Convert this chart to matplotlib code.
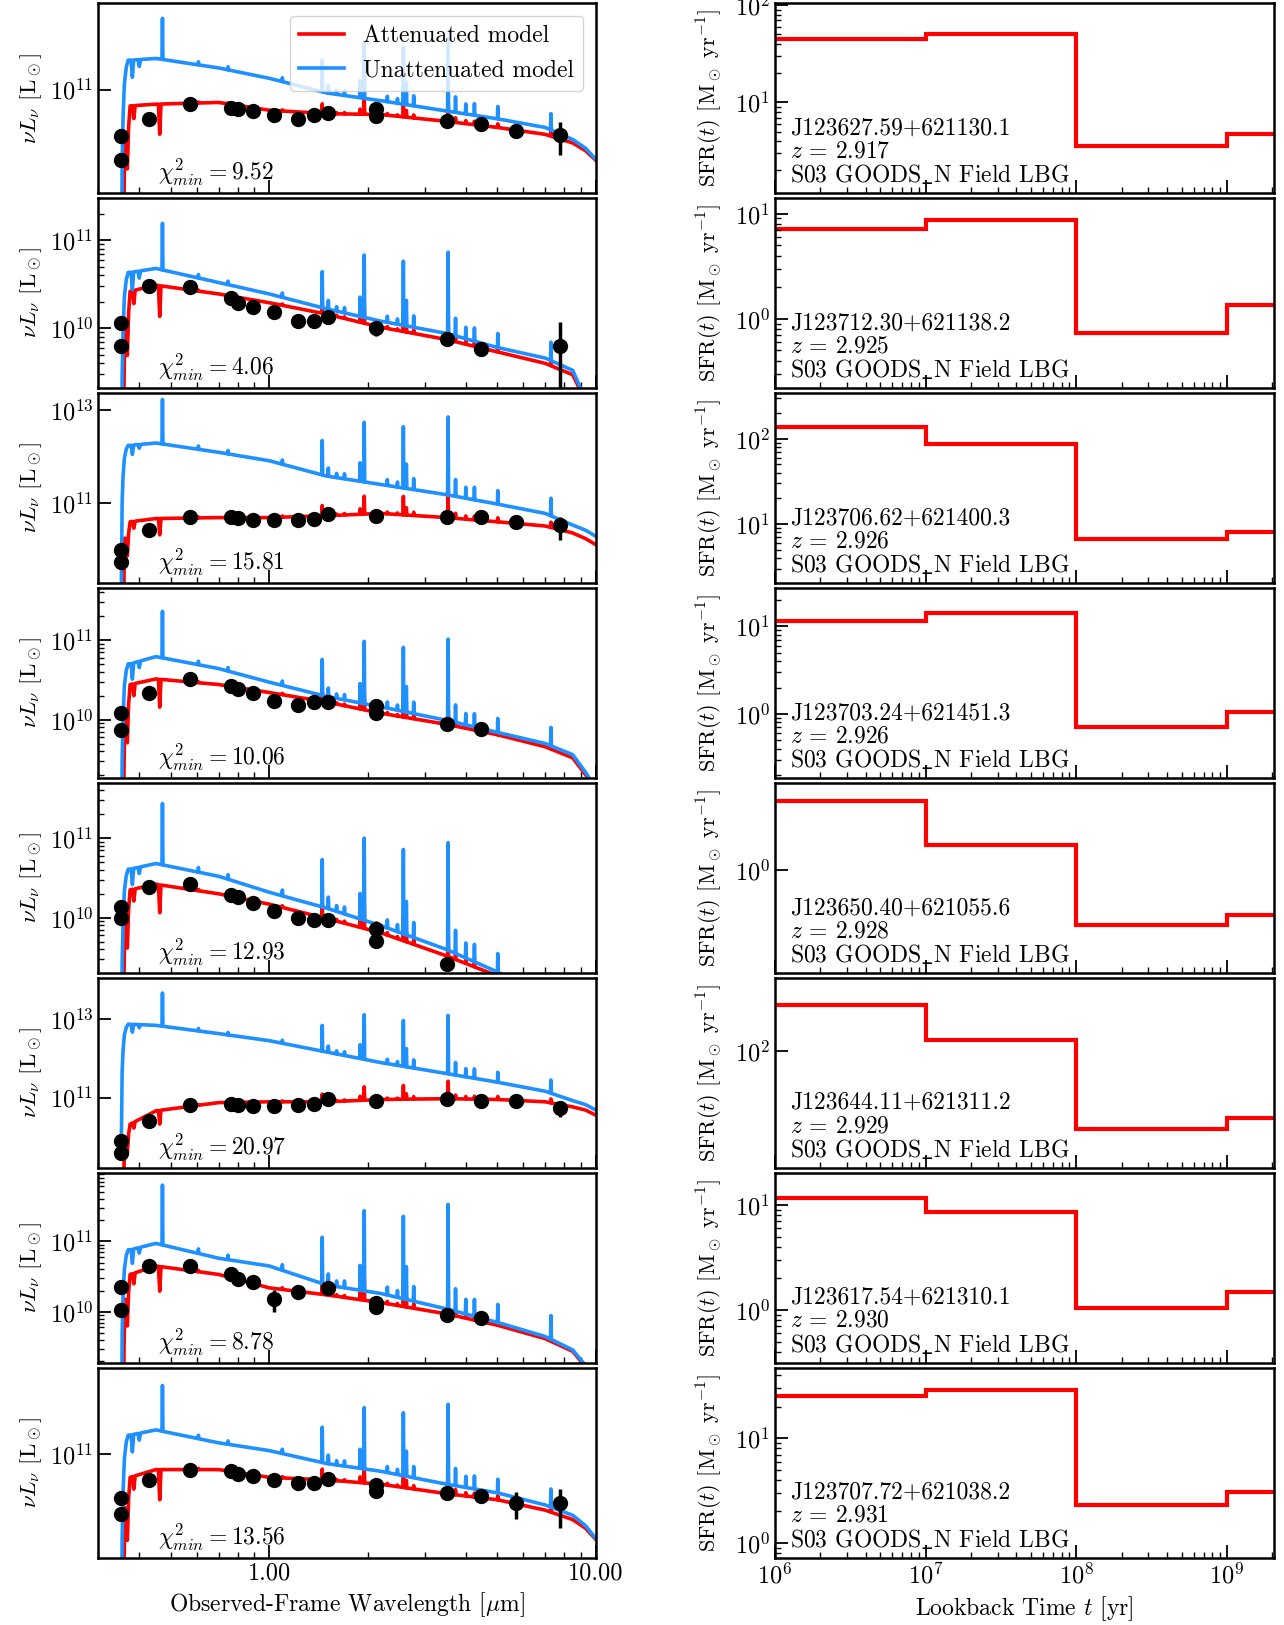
import numpy as np
import matplotlib
matplotlib.use('Agg')
import matplotlib.pyplot as plt
from matplotlib.ticker import (FixedLocator, LogLocator, NullLocator,
                               NullFormatter, FormatStrFormatter, LogFormatterMathtext)

plt.rcParams['font.family'] = ['cmr10', 'DejaVu Serif']
plt.rcParams['mathtext.fontset'] = 'cm'
plt.rcParams['axes.formatter.use_mathtext'] = True
plt.rcParams['font.size'] = 17

# ---- galaxy info ----
names = ['J123627.59+621130.1', 'J123712.30+621138.2', 'J123706.62+621400.3',
         'J123703.24+621451.3', 'J123650.40+621055.6', 'J123644.11+621311.2',
         'J123617.54+621310.1', 'J123707.72+621038.2']
redshifts = [2.917, 2.925, 2.926, 2.926, 2.928, 2.929, 2.930, 2.931]
chi2_min = [9.52, 4.06, 15.81, 10.06, 12.93, 20.97, 8.78, 13.56]

# ---- model continuum knots (um) and log10 nuLnu values ----
knot_wave = [0.375, 0.45, 0.7, 1.0, 1.5, 2.2, 3.5, 5.0, 7.0, 8.5, 9.3, 10.0]
blue_knots = [
    [11.34, 11.36, 11.25, 11.13, 10.96, 10.87, 10.75, 10.66, 10.56, 10.42, 10.32, 10.19],
    [10.635, 10.68, 10.52, 10.39, 10.22, 10.08, 9.94, 9.78, 9.66, 9.52, 9.19, 8.78],
    [12.24, 12.29, 12.09, 11.91, 11.58, 11.40, 11.18, 10.98, 10.78, 10.53, 10.42, 10.29],
    [10.70, 10.79, 10.64, 10.47, 10.29, 10.16, 9.99, 9.84, 9.70, 9.56, 9.34, 9.14],
    [10.61, 10.68, 10.52, 10.32, 10.12, 9.90, 9.60, 9.32, 9.03, 8.83, 8.70, 8.57],
    [12.87, 12.84, 12.63, 12.45, 12.16, 11.89, 11.61, 11.39, 11.16, 10.92, 10.82, 10.68],
    [10.88, 10.97, 10.76, 10.65, 10.38, 10.26, 10.04, 9.85, 9.65, 9.46, 9.24, 8.99],
    [11.22, 11.28, 11.13, 11.04, 10.89, 10.80, 10.65, 10.55, 10.41, 10.29, 10.17, 10.02],
]
red_knots = [
    [10.81, 10.83, 10.85, 10.76, 10.72, 10.71, 10.63, 10.56, 10.48, 10.38, 10.29, 10.18],
    [10.42, 10.49, 10.39, 10.29, 10.16, 10.01, 9.87, 9.73, 9.60, 9.47, 9.17, 8.76],
    [10.60, 10.67, 10.69, 10.69, 10.73, 10.78, 10.69, 10.60, 10.51, 10.36, 10.24, 10.11],
    [10.44, 10.51, 10.44, 10.34, 10.22, 10.08, 9.94, 9.81, 9.66, 9.52, 9.31, 9.12],
    [10.35, 10.42, 10.30, 10.17, 9.99, 9.81, 9.52, 9.27, 9.00, 8.80, 8.68, 8.55],
    [10.32, 10.66, 10.87, 10.89, 10.89, 10.95, 10.97, 10.95, 10.89, 10.76, 10.68, 10.55],
    [10.53, 10.65, 10.53, 10.34, 10.24, 10.13, 9.97, 9.81, 9.62, 9.44, 9.22, 8.97],
    [10.73, 10.82, 10.82, 10.73, 10.70, 10.65, 10.54, 10.47, 10.35, 10.24, 10.14, 10.01],
]
# Lyman-break shape, offsets (dex) from the first knot
blue_break_wave = [0.3525, 0.3545, 0.3568, 0.3602, 0.3650, 0.3700]
blue_break_off = [-3.0, -1.2, -0.66, -0.27, -0.08, 0.0]
red_break_wave = [0.357, 0.3593, 0.3615, 0.3645, 0.3677, 0.3710]
red_break_off = [-3.0, -1.0, -0.35, -0.45, -0.73, -0.25]
# absorption dips (um, dex)
blue_dip_wave = [0.381, 0.400]
blue_dip_dex = [-0.20, -0.08]
red_dip_wave = [0.385, 0.462]
red_dip_dex = [-0.15, -0.35]
# emission lines (observed um, dex above continuum for a reference panel)
line_wave = [0.471, 0.607, 0.748, 1.097, 1.453, 1.517, 1.608, 1.70, 1.898, 1.954,
             2.30, 2.47, 2.575, 2.63, 2.77, 3.53, 3.72, 4.0, 4.25, 5.01, 7.29]
line_dex = [0.53, 0.04, 0.04, 0.05, 0.41, 0.10, 0.05, 0.06, 0.22, 0.71,
            0.07, 0.06, 0.73, 0.29, 0.13, 0.93, 0.20, 0.13, 0.15, 0.16, 0.21]
line_scale = [0.9, 1.0, 1.8, 1.1, 1.45, 1.6, 1.6, 1.0]
red_line_frac = 0.3

# ---- photometry (um, log10 nuLnu, upper error in dex) ----
phot_wave = [
    [0.352, 0.352, 0.427, 0.573, 0.762, 0.803, 0.889, 1.037, 1.228, 1.371, 1.518, 2.128, 2.128, 3.50, 4.46, 5.68, 7.75],
    [0.352, 0.352, 0.427, 0.573, 0.762, 0.803, 0.889, 1.037, 1.228, 1.371, 1.518, 2.128, 3.50, 4.46, 7.75],
    [0.352, 0.352, 0.427, 0.573, 0.762, 0.803, 0.889, 1.037, 1.228, 1.371, 1.518, 2.128, 3.50, 4.46, 5.68, 7.75],
    [0.352, 0.352, 0.427, 0.573, 0.762, 0.803, 0.889, 1.037, 1.228, 1.371, 1.518, 2.128, 2.128, 3.50, 4.46],
    [0.352, 0.352, 0.427, 0.573, 0.762, 0.803, 0.889, 1.037, 1.228, 1.371, 1.518, 2.128, 2.128, 3.50],
    [0.352, 0.352, 0.427, 0.573, 0.762, 0.803, 0.889, 1.037, 1.228, 1.371, 1.518, 2.128, 3.50, 4.46, 5.68, 7.75],
    [0.352, 0.352, 0.427, 0.573, 0.762, 0.803, 0.889, 1.037, 1.228, 1.518, 2.128, 2.128, 3.50, 4.46],
    [0.352, 0.352, 0.427, 0.573, 0.762, 0.803, 0.889, 1.037, 1.228, 1.371, 1.518, 2.128, 2.128, 3.50, 4.46, 5.68, 7.75],
]
phot_logL = [
    [10.46, 10.18, 10.66, 10.83, 10.79, 10.77, 10.75, 10.71, 10.66, 10.70, 10.73, 10.77, 10.69, 10.64, 10.60, 10.52, 10.47],
    [10.06, 9.80, 10.48, 10.47, 10.34, 10.29, 10.24, 10.19, 10.08, 10.08, 10.13, 10.00, 9.88, 9.76, 9.80],
    [10.00, 9.73, 10.42, 10.71, 10.71, 10.69, 10.64, 10.64, 10.64, 10.67, 10.76, 10.73, 10.71, 10.71, 10.60, 10.53],
    [10.08, 9.87, 10.34, 10.51, 10.42, 10.39, 10.34, 10.23, 10.18, 10.22, 10.22, 10.17, 10.08, 9.94, 9.88],
    [10.14, 10.00, 10.38, 10.42, 10.29, 10.26, 10.18, 10.08, 10.00, 9.97, 9.97, 9.86, 9.71, 9.42],
    [9.89, 9.58, 10.39, 10.82, 10.84, 10.82, 10.79, 10.79, 10.82, 10.84, 10.95, 10.92, 10.95, 10.92, 10.92, 10.74],
    [10.35, 10.03, 10.65, 10.65, 10.53, 10.47, 10.43, 10.18, 10.28, 10.34, 10.12, 10.07, 9.96, 9.91],
    [10.49, 10.31, 10.70, 10.82, 10.80, 10.77, 10.75, 10.70, 10.66, 10.67, 10.71, 10.64, 10.57, 10.55, 10.51, 10.43, 10.43],
]
phot_err = [
    [0, 0, 0, 0, 0, 0, 0, 0, 0, 0, 0, 0, 0, 0, 0, 0.06, 0.15],
    [0.04, 0, 0, 0, 0, 0, 0, 0, 0, 0, 0, 0.07, 0.05, 0.06, 0.27],
    [0, 0, 0, 0, 0, 0, 0, 0, 0, 0, 0, 0, 0, 0, 0, 0.18],
    [0, 0, 0, 0, 0, 0, 0, 0, 0, 0, 0, 0, 0, 0, 0],
    [0, 0, 0, 0, 0, 0, 0, 0, 0, 0, 0, 0.10, 0, 0.05],
    [0, 0, 0, 0, 0, 0, 0, 0, 0, 0, 0, 0, 0, 0, 0, 0.15],
    [0, 0, 0, 0, 0, 0, 0, 0.13, 0, 0, 0.08, 0, 0, 0],
    [0, 0, 0, 0, 0, 0, 0, 0, 0, 0, 0, 0, 0, 0, 0, 0.13, 0.17],
]
sed_ylim = [(9.80, 12.00), (9.32, 11.48), (9.29, 13.36), (9.27, 11.65),
            (9.31, 11.69), (9.21, 14.05), (9.28, 11.97), (9.80, 12.00)]
sed_yticks = [[11], [10, 11], [11, 13], [10, 11], [10, 11], [11, 13], [10, 11], [11]]

# ---- star-formation histories ----
sfh_edges = [1e6, 1e7, 1e8, 1e9, 2.2e9]
sfr = [
    [45.2, 50.8, 3.56, 4.79],
    [7.13, 8.73, 0.73, 1.34],
    [136.0, 87.1, 6.70, 8.13],
    [11.5, 14.3, 0.71, 1.04],
    [9.66, 2.25, 0.166, 0.233],
    [422.0, 142.0, 9.08, 12.5],
    [11.7, 8.53, 1.05, 1.47],
    [25.5, 29.2, 2.32, 3.05],
]
sfh_ylim = [(0.069, 2.02), (-0.657, 1.147), (0.31, 2.533), (-0.732, 1.439),
            (-1.456, 1.235), (0.431, 2.986), (-0.5, 1.304), (-0.139, 1.673)]
sfh_yticks = [[1, 2], [0, 1], [1, 2], [0, 1], [0], [2], [0, 1], [0, 1]]


def spectrum(knots, pre_wave, pre_off, feat_wave, feat_dex, half):
    lw = np.log10(np.concatenate([pre_wave, knot_wave]))
    lv = np.concatenate([knots[0] + np.array(pre_off), knots])
    xs, ys = list(lw), list(lv)
    for w, d, h in zip(feat_wave, feat_dex, half):
        c = np.log10(w)
        for dx, bump in ((-h, 0.0), (0.0, d), (h, 0.0)):
            xs.append(c + dx)
            ys.append(np.interp(c + dx, lw, lv) + bump)
    order = np.argsort(xs)
    return 10 ** np.array(xs)[order], 10 ** np.array(ys)[order]


def style(ax, yticks, ylim):
    ax.set_yscale('log')
    ax.set_ylim(10 ** ylim[0], 10 ** ylim[1])
    ax.yaxis.set_major_locator(FixedLocator([10.0 ** t for t in yticks]))
    ax.yaxis.set_major_formatter(LogFormatterMathtext())
    if len(yticks) > 1 and yticks[1] - yticks[0] == 1:
        ax.yaxis.set_minor_locator(LogLocator(base=10, subs=np.arange(2, 10), numticks=30))
    else:
        ax.yaxis.set_minor_locator(NullLocator())
    ax.yaxis.set_minor_formatter(NullFormatter())
    ax.tick_params(which='both', direction='in', top=False, right=False)
    ax.tick_params(which='major', length=9.5, width=1.3, labelsize=17.5)
    ax.tick_params(which='minor', length=4.5, width=1.0)
    for s in ax.spines.values():
        s.set_linewidth(1.8)


fig = plt.figure(figsize=(12.84, 16.25), dpi=100)
gl = fig.add_gridspec(8, 1, left=0.0767, right=0.464, top=0.998, bottom=0.0415, hspace=0.0273)
gr = fig.add_gridspec(8, 1, left=0.6036, right=0.992, top=0.998, bottom=0.0415, hspace=0.0273)

for i in range(8):
    # ---- SED panel ----
    ax = fig.add_subplot(gl[i])
    bw = list(line_wave) + blue_dip_wave
    bd = [d * line_scale[i] for d in line_dex] + blue_dip_dex
    bh = [0.0015] * len(line_wave) + [0.004] * len(blue_dip_wave)
    rw = list(line_wave[1:]) + red_dip_wave
    rd = [d * line_scale[i] * red_line_frac for d in line_dex[1:]] + red_dip_dex
    rh = [0.0015] * (len(line_wave) - 1) + [0.004] * len(red_dip_wave)
    xr, yr = spectrum(red_knots[i], red_break_wave, red_break_off, rw, rd, rh)
    xb, yb = spectrum(blue_knots[i], blue_break_wave, blue_break_off, bw, bd, bh)
    ax.plot(xr, yr, color='red', lw=2.6, label='Attenuated model')
    ax.plot(xb, yb, color='dodgerblue', lw=2.6, label='Unattenuated model')
    val = 10 ** np.array(phot_logL[i])
    err = 10 ** (np.array(phot_logL[i]) + np.array(phot_err[i])) - val
    ax.errorbar(phot_wave[i], val, yerr=err, fmt='o', color='k', ms=10,
                elinewidth=2.5, capsize=0, zorder=5)
    ax.set_xscale('log')
    ax.set_xlim(0.3, 10.0)
    ax.xaxis.set_major_locator(FixedLocator([1.0, 10.0]))
    ax.xaxis.set_major_formatter(FormatStrFormatter('%.2f'))
    ax.xaxis.set_minor_locator(LogLocator(base=10, subs=np.arange(2, 10), numticks=30))
    ax.xaxis.set_minor_formatter(NullFormatter())
    style(ax, sed_yticks[i], sed_ylim[i])
    ax.set_ylabel(r'$\nu L_\nu$ [L$_\odot$]', fontsize=16.5)
    ax.yaxis.set_label_coords(-0.11, 0.5)
    ax.text(0.12, 0.025, r'$\chi^2_{min} = %.2f$' % chi2_min[i],
            transform=ax.transAxes, va='bottom', fontsize=17)
    if i == 0:
        ax.legend(loc='upper right', bbox_to_anchor=(0.975, 0.934), borderaxespad=0,
                  fontsize=17, handlelength=1.9, framealpha=0.8)
    if i < 7:
        ax.tick_params(labelbottom=False)
    else:
        ax.set_xlabel(r'Observed-Frame Wavelength [$\mu$m]', fontsize=17)

    # ---- SFH panel ----
    ax2 = fig.add_subplot(gr[i])
    ax2.stairs(sfr[i], sfh_edges, baseline=None, color='red', lw=3)
    ax2.set_xscale('log')
    ax2.set_xlim(1e6, 2.04e9)
    ax2.xaxis.set_major_locator(LogLocator(base=10, numticks=10))
    ax2.xaxis.set_major_formatter(LogFormatterMathtext())
    ax2.xaxis.set_minor_locator(LogLocator(base=10, subs=np.arange(2, 10), numticks=30))
    ax2.xaxis.set_minor_formatter(NullFormatter())
    style(ax2, sfh_yticks[i], sfh_ylim[i])
    ax2.set_ylabel(r'SFR($t$) [M$_\odot$ yr$^{-1}$]', fontsize=16)
    ax2.yaxis.set_label_coords(-0.10, 0.5)
    ax2.text(0.03, 0.03, names[i] + '\n' + r'$z$ = %.3f' % redshifts[i]
             + '\n' + r'S03 GOODS$\_$N Field LBG',
             transform=ax2.transAxes, va='bottom', fontsize=17, linespacing=1.05)
    if i < 7:
        ax2.tick_params(labelbottom=False)
    else:
        ax2.set_xlabel(r'Lookback Time $t$ [yr]', fontsize=17)

fig.savefig('out.png', dpi=100)
